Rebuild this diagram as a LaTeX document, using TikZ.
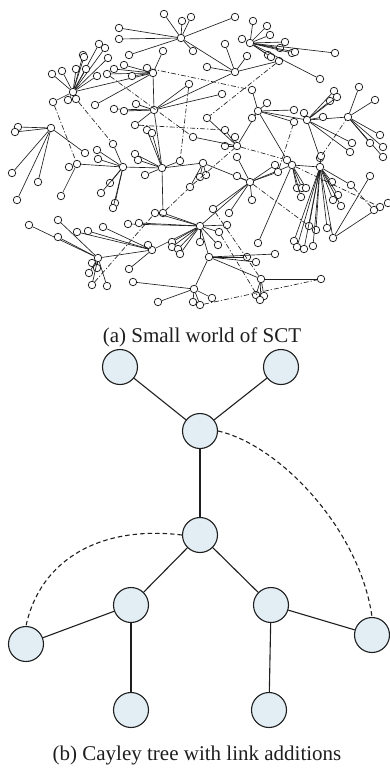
\documentclass[tikz,border=0pt]{standalone}
\usepackage{fontspec}
\setmainfont{Liberation Serif}
\definecolor{treefill}{RGB}{226,237,244}
\definecolor{ink}{RGB}{30,30,30}
% leaves of one hub: name, list of x/y positions
\newcommand\leafset[2]{%
  \foreach \px/\py [count=\i] in {#2} {%
    \node[dot] (#1l\i) at (\px,\py) {};
    \draw[edge] (#1l\i) -- (#1);
  }}
\begin{document}
\begin{tikzpicture}[x=1pt,y=-1pt,
  dot/.style={circle,draw=ink,line width=0.75pt,fill=white,inner sep=0pt,minimum size=7.5pt},
  edge/.style={line width=0.65pt,draw=ink},
  link/.style={line width=0.65pt,draw=ink,dash pattern=on 5pt off 2pt on 1.2pt off 2pt},
  tnode/.style={circle,draw=ink,line width=1.1pt,fill=treefill,inner sep=0pt,minimum size=35pt},
  tedge/.style={line width=1.1pt,draw=ink},
  tlink/.style={line width=1.1pt,draw=ink,dash pattern=on 4.5pt off 3pt},
  caption/.style={anchor=base,font=\fontsize{21}{25}\selectfont,text=ink}]
\useasboundingbox (0,0) rectangle (390,772);

% ---------- (a) small-world graph: hubs ----------
\foreach \n/\px/\py in {h1/181/38, h2/73/92, h3/235/72, h4/153/73, h5/154/110,
  h6/51/128, h7/250/43, h8/258/111, h9/307/120, h10/348/117, h11/237/146,
  h12/123/167, h13/162/168, h14/163/213, h15/200/226, h16/152/250, h17/98/258,
  h18/194/289, h19/250/182, h20/203/163, h21/209/257, h22/261/279, h23/292/165,
  h24/320/167, h25/333/238, h26/380/207, h27/77/164}
  \node[dot] (\n) at (\px,\py) {};

% hub-to-hub tree edges
\foreach \a/\b in {h1/h3, h2/h4, h4/h5, h5/h3, h5/h13, h8/h9, h9/h10, h8/h11,
  h12/h13, h12/h27, h13/h14, h14/h15, h13/h20, h20/h19, h15/h19, h15/h16,
  h16/h17, h15/h21, h21/h18, h21/h22, h19/h23, h23/h24, h24/h25, h25/h26}
  \draw[edge] (\a) -- (\b);

% leaves
\leafset{h1}{164/14,182/21,191/17,119/28,119/39,129/55,193/51,235/17}
\leafset{h2}{52/74,62/71,76/69,83/55,84/57,99/44,105/48,108/58,86/69,97/76,53/102,68/100,76/99}
\leafset{h4}{163/51,147/68,124/65,114/69,107/74,132/76,95/105}
\leafset{h5}{114/109,124/111,136/104,189/84,222/94,135/125}
\leafset{h6}{18/127,15/132,12/173,38/182,17/200,85/153}
\leafset{h3}{225/44,247/56,207/67,279/61}
\leafset{h7}{253/21,267/26,270/35,242/39,285/42,280/48,268/55,271/57,292/53,295/52,335/53,320/79}
\leafset{h8}{252/90,267/103,294/110,294/122,252/118,287/160}
\leafset{h9}{304/113,323/117,330/101,334/91,337/97,352/143,350/152,320/158}
\leafset{h10}{359/87,375/100,380/135,383/147,383/157,370/143}
\leafset{h11}{207/118,225/130,235/137,225/146,193/137}
\leafset{h12}{98/159,110/183,101/193,115/203,113/208,113/144,97/150}
\leafset{h27}{69/167,61/196}
\leafset{h13}{145/175,135/154,138/160,180/161,147/130,152/133}
\leafset{h15}{128/224,139/223,155/213,172/242,172/247,178/249,180/254,200/242,227/225,219/232,218/245}
\leafset{h16}{148/245,103/227,88/231,77/232,129/269}
\leafset{h17}{29/225,58/220,58/237,92/263,97/268,89/273,92/285,107/286}
\leafset{h18}{133/282,158/302,193/302,200/305,212/298}
\leafset{h19}{237/176,229/213,213/209,252/200,275/165,278/172,237/157}
\leafset{h20}{200/177,206/175,190/187}
\leafset{h21}{247/257,256/262,275/254}
\leafset{h22}{321/279,256/295,264/296,260/300}
\leafset{h23}{297/188,302/188,306/188,301/197,258/243}
\leafset{h24}{321/156,332/182,351/185,333/200,338/195,341/206,309/226,316/230,327/228,294/241,297/247,304/249,313/246}
\leafset{h25}{370/176}
\leafset{h26}{388/203,374/210}

% long-range shortcut links
\foreach \a/\b in {h2l11/h27, h2l13/h12l6, h4l5/h11l5, h4l2/h8l1, h5l4/h13l4,
  h3l4/h11l1, h11/h8l6, h9l8/h10, h19/h24l7, h23/h26, h18l4/h22l1, h19l3/h22,
  h17l7/h15l3, h14/h20l3, h19l6/h8l4, h20l3/h11, h15l10/h22l4, h24l3/h26l2,
  h5l6/h11l2}
  \draw[link] (\a) -- (\b);

\node[caption] (capA) at (202,342) {(a) Small world of SCT};

% ---------- (b) Cayley tree ----------
\node[tnode] (t1) at (120,367) {};
\node[tnode] (t2) at (281,367) {};
\node[tnode] (t3) at (200,431) {};
\node[tnode] (t4) at (200,535) {};
\node[tnode] (t5) at (131,605) {};
\node[tnode] (t6) at (271,605) {};
\node[tnode] (t7) at (26,644) {};
\node[tnode] (t8) at (372,635) {};
\node[tnode] (t9) at (131,710) {};
\node[tnode] (t10) at (269,710) {};

\foreach \a/\b in {t1/t3, t2/t3, t3/t4, t4/t5, t4/t6, t5/t7, t5/t9, t6/t8, t6/t10}
  \draw[tedge] (\a) -- (\b);

% added links
\draw[tlink] (t3.east) .. controls (280,445) and (360,530) .. (t8.north);
\draw[tlink] (t4.west) .. controls (100,525) and (40,560) .. (t7.north);

\node[caption] (capB) at (197,760) {(b) Cayley tree with link additions};
\end{tikzpicture}
\end{document}
